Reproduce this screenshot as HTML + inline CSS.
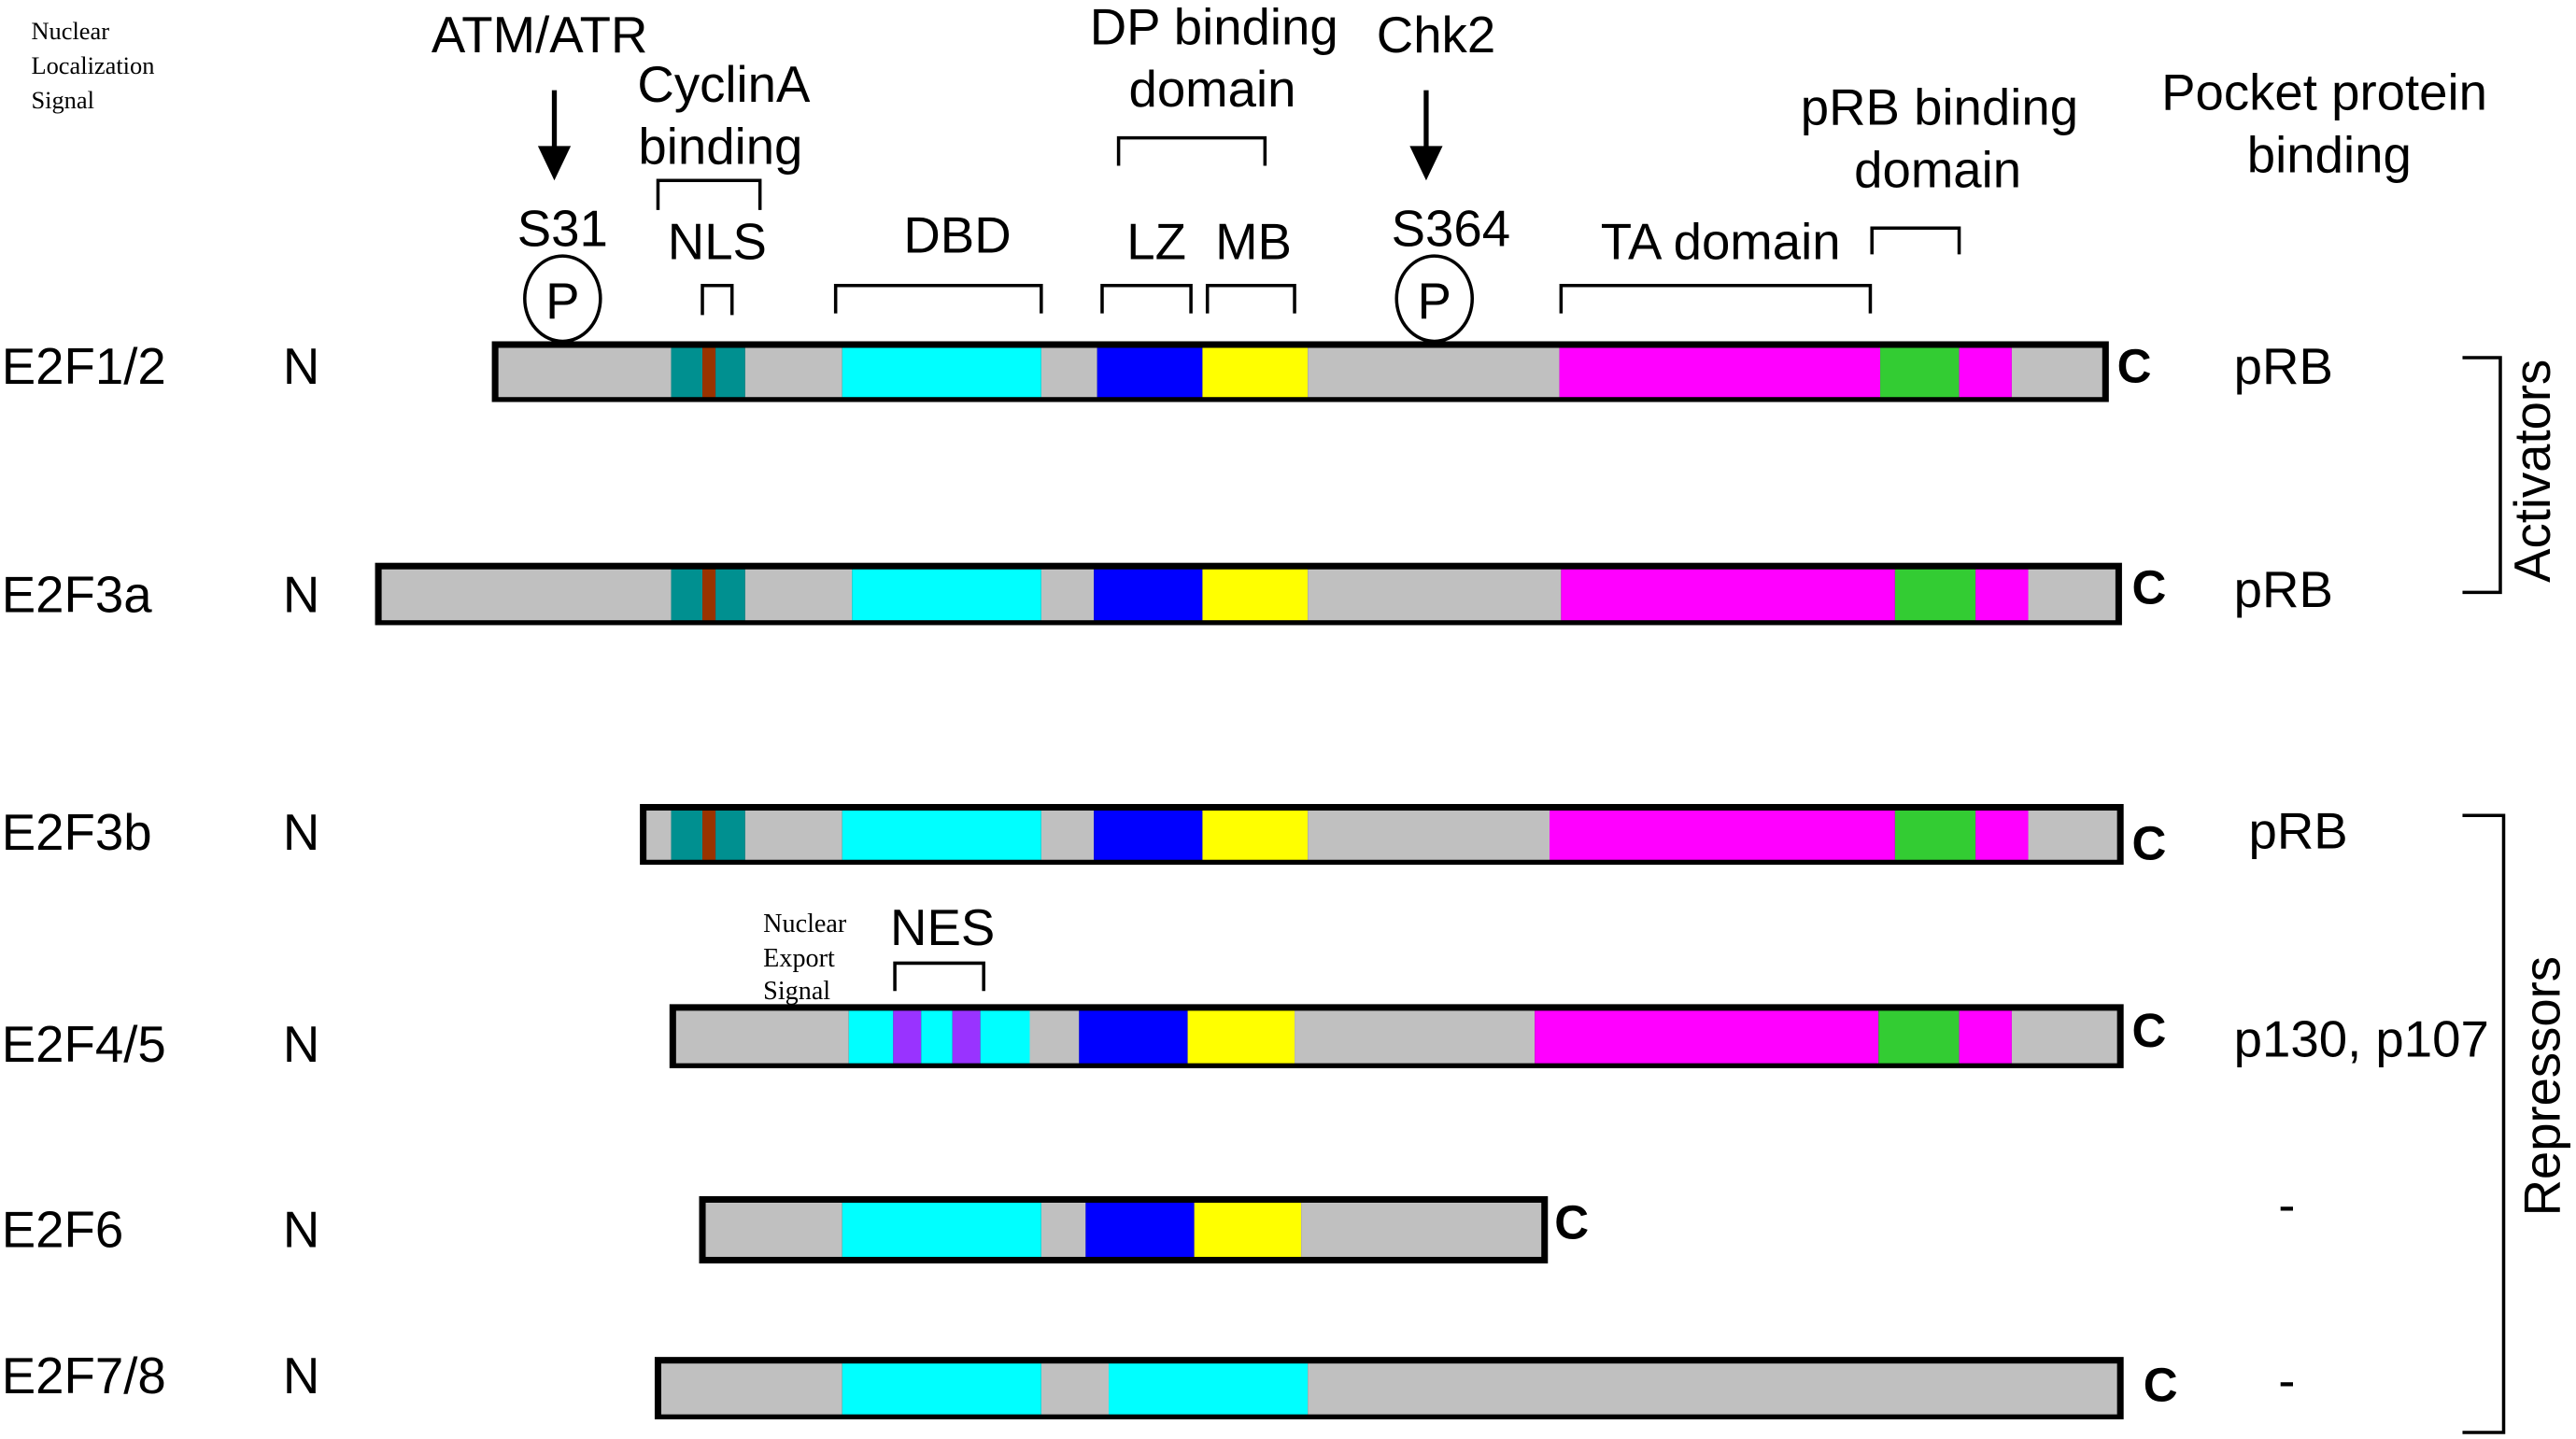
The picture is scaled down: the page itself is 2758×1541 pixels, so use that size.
<!DOCTYPE html>
<html><head><meta charset="utf-8"><style>
html,body{margin:0;padding:0;background:#fff;}
svg{display:block;}
text{font-family:"Liberation Sans",sans-serif;fill:#000;}
.s{font-family:"Liberation Serif",serif;}
</style></head><body>
<svg width="2758" height="1541" viewBox="0 0 1566 877" preserveAspectRatio="none" xmlns="http://www.w3.org/2000/svg">

<!-- top labels -->
<text class="s" x="19" y="24" font-size="15">Nuclear</text>
<text class="s" x="19" y="45" font-size="15">Localization</text>
<text class="s" x="19" y="66" font-size="15">Signal</text>
<text x="328" y="32" font-size="31" text-anchor="middle">ATM/ATR</text>
<line x1="337" y1="55" x2="337" y2="92" stroke="#000" stroke-width="3"/>
<path d="M327,89 L347,89 L337,110 z" fill="#000"/>
<text x="440" y="62" font-size="31" text-anchor="middle">CyclinA</text>
<text x="438" y="100" font-size="31" text-anchor="middle">binding</text>
<path d="M400,128 V110 H462 V128" fill="none" stroke="#000" stroke-width="2"/>
<text x="342" y="150" font-size="31" text-anchor="middle">S31</text>
<text x="436" y="158" font-size="31" text-anchor="middle">NLS</text>
<path d="M427,192 V174 H445 V192" fill="none" stroke="#000" stroke-width="2"/>
<ellipse cx="342" cy="182" rx="23" ry="26" fill="#fff" stroke="#000" stroke-width="2"/>
<text x="342" y="194" font-size="31" text-anchor="middle">P</text>

<text x="582" y="154" font-size="31" text-anchor="middle">DBD</text>
<path d="M508,191 V174 H633 V191" fill="none" stroke="#000" stroke-width="2"/>
<text x="738" y="27" font-size="31" text-anchor="middle">DP binding</text>
<text x="737" y="65" font-size="31" text-anchor="middle">domain</text>
<path d="M680,101 V84 H769 V101" fill="none" stroke="#000" stroke-width="2"/>
<text x="703" y="158" font-size="31" text-anchor="middle">LZ</text>
<text x="762" y="158" font-size="31" text-anchor="middle">MB</text>
<path d="M670,191 V174 H724 V191" fill="none" stroke="#000" stroke-width="2"/>
<path d="M734,191 V174 H787 V191" fill="none" stroke="#000" stroke-width="2"/>

<text x="873" y="32" font-size="31" text-anchor="middle">Chk2</text>
<line x1="867" y1="55" x2="867" y2="92" stroke="#000" stroke-width="3"/>
<path d="M857,89 L877,89 L867,110 z" fill="#000"/>
<text x="882" y="150" font-size="31" text-anchor="middle">S364</text>
<ellipse cx="872" cy="182" rx="23" ry="26" fill="#fff" stroke="#000" stroke-width="2"/>
<text x="872" y="194" font-size="31" text-anchor="middle">P</text>

<text x="1046" y="158" font-size="31" text-anchor="middle">TA domain</text>
<path d="M949,191 V174 H1137 V191" fill="none" stroke="#000" stroke-width="2"/>
<text x="1179" y="76" font-size="31" text-anchor="middle">pRB binding</text>
<text x="1178" y="114" font-size="31" text-anchor="middle">domain</text>
<path d="M1138,155 V139 H1191 V155" fill="none" stroke="#000" stroke-width="2"/>
<text x="1413" y="67" font-size="31" text-anchor="middle">Pocket protein</text>
<text x="1416" y="105" font-size="31" text-anchor="middle">binding</text>

<!-- row labels -->
<g font-size="31">
<text x="1" y="234">E2F1/2</text><text x="172" y="234">N</text><text x="1358" y="234">pRB</text>
<text x="1" y="373">E2F3a</text><text x="172" y="373">N</text><text x="1358" y="370">pRB</text>
<text x="1" y="518">E2F3b</text><text x="172" y="518">N</text><text x="1367" y="517">pRB</text>
<text x="1" y="647">E2F4/5</text><text x="172" y="647">N</text><text x="1358" y="644">p130, p107</text>
<text x="1" y="760">E2F6</text><text x="172" y="760">N</text><text x="1385" y="745">-</text>
<text x="1" y="849">E2F7/8</text><text x="172" y="849">N</text><text x="1385" y="852">-</text>
</g>
<g font-size="29" font-weight="bold">
<text x="1287" y="233">C</text><text x="1296" y="368">C</text><text x="1296" y="524">C</text>
<text x="1296" y="638">C</text><text x="945" y="755">C</text><text x="1303" y="854">C</text>
</g>

<!-- nes -->
<text class="s" x="464" y="568" font-size="16">Nuclear</text>
<text class="s" x="464" y="589" font-size="16">Export</text>
<text class="s" x="464" y="609" font-size="16">Signal</text>
<text x="573" y="576" font-size="31" text-anchor="middle">NES</text>
<path d="M544,604 V587 H598 V604" fill="none" stroke="#000" stroke-width="2"/>

<!-- brackets right -->
<path d="M1497,218 H1520 V361 H1497" fill="none" stroke="#000" stroke-width="2"/>
<text transform="translate(1550,287) rotate(-90)" font-size="31" text-anchor="middle">Activators</text>
<path d="M1497,497 H1522 V873 H1497" fill="none" stroke="#000" stroke-width="2"/>
<text transform="translate(1556,662) rotate(-90)" font-size="31" text-anchor="middle">Repressors</text>

<g stroke="none">
<!-- E2F1/2 -->
<rect x="299" y="208" width="983" height="37" fill="#000"/>
<rect x="303" y="212" width="105" height="30" fill="#c0c0c0"/>
<rect x="408" y="212" width="19" height="30" fill="#009090"/>
<rect x="427" y="212" width="8" height="30" fill="#993300"/>
<rect x="435" y="212" width="18" height="30" fill="#009090"/>
<rect x="453" y="212" width="59" height="30" fill="#c0c0c0"/>
<rect x="512" y="212" width="121" height="30" fill="#00ffff"/>
<rect x="633" y="212" width="34" height="30" fill="#c0c0c0"/>
<rect x="667" y="212" width="64" height="30" fill="#0000ff"/>
<rect x="731" y="212" width="64" height="30" fill="#ffff00"/>
<rect x="795" y="212" width="153" height="30" fill="#c0c0c0"/>
<rect x="948" y="212" width="195" height="30" fill="#ff00ff"/>
<rect x="1143" y="212" width="48" height="30" fill="#33cc33"/>
<rect x="1191" y="212" width="32" height="30" fill="#ff00ff"/>
<rect x="1223" y="212" width="55" height="30" fill="#c0c0c0"/>
<!-- E2F3a -->
<rect x="228" y="343" width="1062" height="38" fill="#000"/>
<rect x="232" y="347" width="176" height="31" fill="#c0c0c0"/>
<rect x="408" y="347" width="19" height="31" fill="#009090"/>
<rect x="427" y="347" width="8" height="31" fill="#993300"/>
<rect x="435" y="347" width="18" height="31" fill="#009090"/>
<rect x="453" y="347" width="65" height="31" fill="#c0c0c0"/>
<rect x="518" y="347" width="115" height="31" fill="#00ffff"/>
<rect x="633" y="347" width="32" height="31" fill="#c0c0c0"/>
<rect x="665" y="347" width="66" height="31" fill="#0000ff"/>
<rect x="731" y="347" width="64" height="31" fill="#ffff00"/>
<rect x="795" y="347" width="154" height="31" fill="#c0c0c0"/>
<rect x="949" y="347" width="203" height="31" fill="#ff00ff"/>
<rect x="1152" y="347" width="49" height="31" fill="#33cc33"/>
<rect x="1201" y="347" width="32" height="31" fill="#ff00ff"/>
<rect x="1233" y="347" width="53" height="31" fill="#c0c0c0"/>
<!-- E2F3b -->
<rect x="389" y="490" width="902" height="37" fill="#000"/>
<rect x="393" y="494" width="15" height="30" fill="#c0c0c0"/>
<rect x="408" y="494" width="19" height="30" fill="#009090"/>
<rect x="427" y="494" width="8" height="30" fill="#993300"/>
<rect x="435" y="494" width="18" height="30" fill="#009090"/>
<rect x="453" y="494" width="59" height="30" fill="#c0c0c0"/>
<rect x="512" y="494" width="121" height="30" fill="#00ffff"/>
<rect x="633" y="494" width="32" height="30" fill="#c0c0c0"/>
<rect x="665" y="494" width="66" height="30" fill="#0000ff"/>
<rect x="731" y="494" width="64" height="30" fill="#ffff00"/>
<rect x="795" y="494" width="147" height="30" fill="#c0c0c0"/>
<rect x="942" y="494" width="210" height="30" fill="#ff00ff"/>
<rect x="1152" y="494" width="49" height="30" fill="#33cc33"/>
<rect x="1201" y="494" width="32" height="30" fill="#ff00ff"/>
<rect x="1233" y="494" width="54" height="30" fill="#c0c0c0"/>
<!-- E2F4/5 -->
<rect x="407" y="612" width="884" height="39" fill="#000"/>
<rect x="411" y="616" width="105" height="32" fill="#c0c0c0"/>
<rect x="516" y="616" width="27" height="32" fill="#00ffff"/>
<rect x="543" y="616" width="17" height="32" fill="#9933ff"/>
<rect x="560" y="616" width="19" height="32" fill="#00ffff"/>
<rect x="579" y="616" width="17" height="32" fill="#9933ff"/>
<rect x="596" y="616" width="30" height="32" fill="#00ffff"/>
<rect x="626" y="616" width="30" height="32" fill="#c0c0c0"/>
<rect x="656" y="616" width="66" height="32" fill="#0000ff"/>
<rect x="722" y="616" width="65" height="32" fill="#ffff00"/>
<rect x="787" y="616" width="146" height="32" fill="#c0c0c0"/>
<rect x="933" y="616" width="209" height="32" fill="#ff00ff"/>
<rect x="1142" y="616" width="49" height="32" fill="#33cc33"/>
<rect x="1191" y="616" width="32" height="32" fill="#ff00ff"/>
<rect x="1223" y="616" width="64" height="32" fill="#c0c0c0"/>
<!-- E2F6 -->
<rect x="425" y="729" width="516" height="41" fill="#000"/>
<rect x="429" y="733" width="83" height="33" fill="#c0c0c0"/>
<rect x="512" y="733" width="121" height="33" fill="#00ffff"/>
<rect x="633" y="733" width="27" height="33" fill="#c0c0c0"/>
<rect x="660" y="733" width="66" height="33" fill="#0000ff"/>
<rect x="726" y="733" width="65" height="33" fill="#ffff00"/>
<rect x="791" y="733" width="146" height="33" fill="#c0c0c0"/>
<!-- E2F7/8 -->
<rect x="398" y="827" width="893" height="38" fill="#000"/>
<rect x="402" y="831" width="110" height="31" fill="#c0c0c0"/>
<rect x="512" y="831" width="121" height="31" fill="#00ffff"/>
<rect x="633" y="831" width="41" height="31" fill="#c0c0c0"/>
<rect x="674" y="831" width="121" height="31" fill="#00ffff"/>
<rect x="795" y="831" width="492" height="31" fill="#c0c0c0"/>
</g>
</svg>
</body></html>
